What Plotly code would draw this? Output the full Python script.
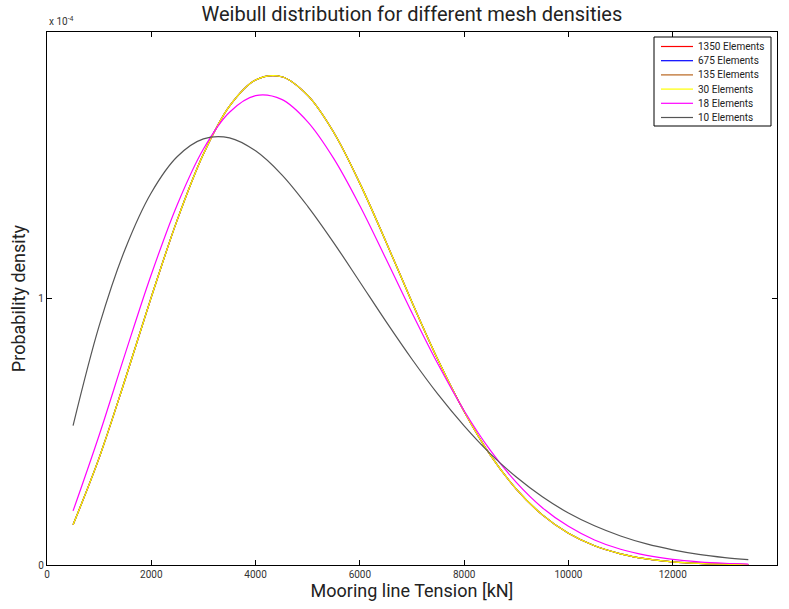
import plotly.graph_objects as go

# Tension [kN]
tension = [500, 1000, 1500, 2000, 2500, 3000, 3500, 4000, 4500, 5000, 5500, 6000, 6500,
           7000, 7500, 8000, 8500, 9000, 9500, 10000, 10500, 11000, 11500, 12000,
           12500, 13000, 13450]

# Probability density (x 1e-4)
pdf_1350 = [0.151, 0.402, 0.697, 1.005, 1.296, 1.542, 1.722, 1.820, 1.832, 1.762, 1.623,
            1.432, 1.213, 0.986, 0.769, 0.576, 0.413, 0.285, 0.188, 0.119, 0.072, 0.042,
            0.023, 0.012, 0.006, 0.003, 0.0015]
pdf_675 = list(pdf_1350)
pdf_135 = list(pdf_1350)
pdf_30 = list(pdf_1350)
pdf_18 = [0.203, 0.487, 0.793, 1.090, 1.353, 1.561, 1.699, 1.761, 1.747, 1.663, 1.525,
          1.348, 1.149, 0.946, 0.753, 0.579, 0.431, 0.310, 0.215, 0.145, 0.094, 0.059,
          0.036, 0.021, 0.012, 0.0065, 0.0036]
pdf_10 = [0.523, 0.897, 1.186, 1.397, 1.533, 1.599, 1.603, 1.554, 1.465, 1.346, 1.209,
          1.062, 0.914, 0.772, 0.640, 0.522, 0.418, 0.330, 0.256, 0.195, 0.147, 0.109,
          0.079, 0.057, 0.040, 0.028, 0.020]

names = ["1350 Elements", "675 Elements", "135 Elements", "30 Elements", "18 Elements", "10 Elements"]
series = [pdf_1350, pdf_675, pdf_135, pdf_30, pdf_18, pdf_10]
colors = ["#ff0000", "#0000ff", "#b8651e", "#ffff00", "#ff00ff", "#555555"]

FONT = "Roboto"
W, H = 789, 609
ML, MR, MT, MB = 47, 12, 32, 44
PW, PH = W - ML - MR, H - MT - MB


def px_x(p):
    return (p - ML) / PW


def px_y(p):
    return (H - MB - p) / PH


fig = go.Figure()
for n, s, c in zip(names, series, colors):
    fig.add_trace(go.Scatter(x=tension, y=s, mode="lines", name=n, showlegend=False,
                             line=dict(color=c, width=1.2, shape="spline", smoothing=1.0)))

axis_common = dict(showline=True, linecolor="black", linewidth=1.2, mirror="ticks",
                   ticks="inside", ticklen=5, tickcolor="black", showgrid=False,
                   zeroline=False, tickfont=dict(family=FONT, size=10, color="#333333"))

fig.update_layout(
    width=W, height=H,
    margin=dict(l=ML, r=MR, t=MT, b=MB),
    plot_bgcolor="white", paper_bgcolor="white",
    font=dict(family=FONT, color="#222222"),
    title=dict(text="Weibull distribution for different mesh densities",
               x=0.522, xanchor="center", y=0.977, yanchor="middle",
               font=dict(family=FONT, size=20, color="#222222")),
    xaxis=dict(range=[0, 14000], tickvals=[0, 2000, 4000, 6000, 8000, 10000, 12000, 14000],
               ticktext=["0", "2000", "4000", "6000", "8000", "10000", "12000", "14000"],
               title=dict(text="Mooring line Tension [kN]", standoff=3,
                          font=dict(family=FONT, size=18, color="#222222")),
               **axis_common),
    yaxis=dict(range=[0, 2.0], tickvals=[0, 1], ticktext=["0", "1"],
               title=dict(text="Probability density", standoff=7,
                          font=dict(family=FONT, size=18, color="#222222")),
               **axis_common),
    showlegend=False,
)

fig.add_annotation(text="x 10<sup>-4</sup>", xref="paper", yref="paper", x=0, y=1.005,
                   xanchor="left", yanchor="bottom", showarrow=False,
                   font=dict(family=FONT, size=10, color="#333333"))

# Custom legend (box + line samples + labels), in paper coordinates
fig.add_shape(type="rect", xref="paper", yref="paper",
              x0=px_x(654), x1=px_x(771), y0=px_y(126), y1=px_y(37),
              line=dict(color="black", width=1), fillcolor="white", layer="above")
row_y0, row_dy = 46.5, 14.2
for i, (n, c) in enumerate(zip(names, colors)):
    yy = row_y0 + i * row_dy
    fig.add_shape(type="line", xref="paper", yref="paper",
                  x0=px_x(661), x1=px_x(693), y0=px_y(yy), y1=px_y(yy),
                  line=dict(color=c, width=1.2), layer="above")
    fig.add_annotation(text=n, xref="paper", yref="paper", x=px_x(696), y=px_y(yy),
                       xanchor="left", yanchor="middle", showarrow=False,
                       font=dict(family=FONT, size=10, color="#222222"))

fig.write_html("out.html")
